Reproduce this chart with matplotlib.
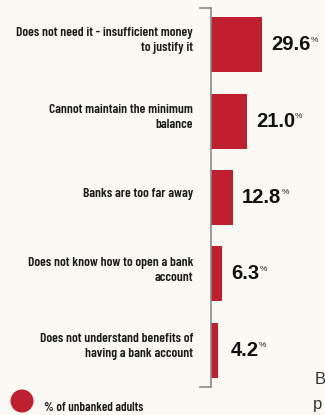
import numpy as np
import matplotlib
matplotlib.use("Agg")
import matplotlib.pyplot as plt
from matplotlib.patches import Ellipse

reasons = [
    "Does not need it - insufficient money\nto justify it",
    "Cannot maintain the minimum\nbalance",
    "Banks are too far away",
    "Does not know how to open a bank\naccount",
    "Does not understand benefits of\nhaving a bank account",
]
share_unbanked = [29.6, 21.0, 12.8, 6.3, 4.2]
legend_label = "% of unbanked adults"

BG = "#fbf9f3"
RED = "#c01f30"
AXIS_GREY = "#8a8a8a"
NARROW = ["Barlow Condensed", "DejaVu Sans"]
SANS = ["Liberation Sans", "DejaVu Sans"]

W, H = 325, 415
fig = plt.figure(figsize=(W / 100, H / 100), dpi=100, facecolor=BG)

# axes spans the vertical rule (x=211px) down to the bottom tick
ax_left, ax_top, ax_bottom = 211, 8, 387
ax = fig.add_axes([ax_left / W, 1 - ax_bottom / H, (W - ax_left) / W, (ax_bottom - ax_top) / H])
ax.set_facecolor("none")

px_per_unit = 1.72
ax.set_xlim(0, (W - ax_left) / px_per_unit)
ax.set_ylim(len(reasons) - 0.52, -0.48)

y = np.arange(len(reasons))
ax.barh(y, share_unbanked, height=0.72, color=RED, edgecolor="none")

for s in ["top", "right", "bottom"]:
    ax.spines[s].set_visible(False)
ax.spines["left"].set_color(AXIS_GREY)
ax.spines["left"].set_linewidth(1.2)
ax.set_xticks([])
ax.set_yticks([])

# short end ticks on the vertical rule
tick_len = 11 / px_per_unit
for yy in ax.get_ylim():
    ax.plot([-tick_len, 0], [yy, yy], color=AXIS_GREY, lw=1.2, clip_on=False)

for yi, label, v in zip(y, reasons, share_unbanked):
    ax.text(-18 / px_per_unit, yi - 0.05, label, ha="right", va="center",
            fontsize=9.7, fontweight="semibold", family=NARROW, color="#1a1a1a",
            linespacing=1.35, clip_on=False)
    xt = max(v, 6.5) + 9 / px_per_unit
    num = ax.text(xt, yi, f"{v:.1f}", ha="left", va="center", fontsize=14.5,
                  fontweight="bold", family=SANS, color="#111111")
    ax.annotate("%", xy=(1, 1), xycoords=num, xytext=(0, -1), textcoords="offset points",
                ha="left", va="top", fontsize=6, family=SANS, color="#222222")

# legend
fig.patches.append(Ellipse((22 / W, 1 - 401 / H), 23 / W, 23 / H, transform=fig.transFigure,
                           facecolor=RED, edgecolor="none"))
fig.text(44 / W, 1 - 408 / H, legend_label, ha="left", va="center", fontsize=9.2,
         fontweight="semibold", family=NARROW, color="#1a1a1a")

# neighbouring column text, cut by the frame
fig.text(315 / W, 1 - 379 / H, "B", ha="left", va="center", fontsize=12, family=SANS,
         color="#333333")
fig.text(313 / W, 1 - 404 / H, "p", ha="left", va="center", fontsize=12, family=SANS,
         color="#333333")

fig.savefig("out.png", dpi=100, facecolor=BG)
